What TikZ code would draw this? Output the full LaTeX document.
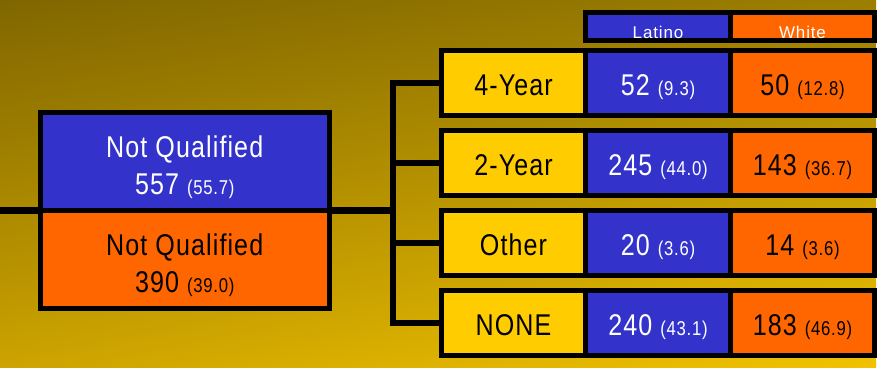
\documentclass[tikz,border=0pt]{standalone}
\usepackage{fontspec}
\setmainfont{Liberation Sans}[FakeStretch=0.835, LetterSpace=3.7]
\newfontfamily\hdrfont{Liberation Sans}[LetterSpace=5]
\usetikzlibrary{positioning, shadings}

\definecolor{latblue}{HTML}{3333CC}
\definecolor{whtorange}{HTML}{FF6600}
\definecolor{typeyellow}{HTML}{FFCC00}
\definecolor{bgtl}{HTML}{806600}
\definecolor{bgtr}{HTML}{9C7E00}
\definecolor{bgbl}{HTML}{CCA300}
\definecolor{bgbr}{HTML}{F0C200}

\newcommand{\pct}[1]{{\fontsize{20}{20}\selectfont(#1)}}

\begin{document}
\begin{tikzpicture}[
        x=1pt, y=-1pt,
        node distance=15pt and 0pt,
        cell/.style={rectangle, draw=black, line width=5pt, minimum width=144.5pt, minimum height=65pt, inner sep=0pt, outer sep=0pt, align=center, text height=24pt, text depth=0pt, font=\fontsize{30}{36}\selectfont},
        typecell/.style={cell, fill=typeyellow},
        latcell/.style={cell, fill=latblue, text=white},
        whtcell/.style={cell, fill=whtorange},
        hdrcell/.style={cell, minimum height=28pt, text=white, text height=23pt, text depth=0pt, font=\hdrfont\fontsize{17}{17}\selectfont},
        nqcell/.style={cell, minimum width=288.5pt, minimum height=98pt, text height=, text depth=, font=\fontsize{30}{37}\selectfont},
        link/.style={draw=black, line width=6.5pt},
    ]
        % background
        \useasboundingbox (0,0) rectangle (881,367);
        \fill[white] (0,0) rectangle (881,367);
        \shade[upper left=bgtl, upper right=bgtr, lower left=bgbl, lower right=bgbr] (0,0) rectangle (876,367);

        % not qualified totals
        \node[nqcell, fill=latblue, text=white] (nqL) at (184.75,161.5) {\rule{0pt}{34pt}Not Qualified\\557 \pct{55.7}};
        \node[nqcell, fill=whtorange, below=0pt of nqL] (nqW) {\rule{0pt}{34pt}Not Qualified\\390 \pct{39.0}};

        % college type rows
        \node[typecell] (yr4) at (513.5,83) {4-Year};
        \node[latcell, right=of yr4] (lat4) {52 \pct{9.3}};
        \node[whtcell, right=of lat4] (wht4) {50 \pct{12.8}};

        \node[typecell, below=of yr4] (yr2) {2-Year};
        \node[latcell, right=of yr2] (lat2) {245 \pct{44.0}};
        \node[whtcell, right=of lat2] (wht2) {143 \pct{36.7}};

        \node[typecell, below=of yr2] (oth) {Other};
        \node[latcell, right=of oth] (latO) {20 \pct{3.6}};
        \node[whtcell, right=of latO] (whtO) {14 \pct{3.6}};

        \node[typecell, below=of oth] (none) {NONE};
        \node[latcell, right=of none] (latN) {240 \pct{43.1}};
        \node[whtcell, right=of latN] (whtN) {183 \pct{46.9}};

        % column headers
        \node[hdrcell, fill=latblue, above=10pt of lat4] (hdrL) {Latino};
        \node[hdrcell, fill=whtorange, above=10pt of wht4] (hdrW) {White};

        % tree lines
        \coordinate (entry) at (0,210.5);
        \coordinate (fork) at (393,210.5);
        \draw[link] (entry) -- (nqL.south west);
        \draw[link] (nqL.south east) -- (fork);
        \draw[link] (yr4.west) -| (fork |- none.west) -- (none.west);
        \draw[link] (fork |- yr2.west) -- (yr2.west);
        \draw[link] (fork |- oth.west) -- (oth.west);
    \end{tikzpicture}
\end{document}
